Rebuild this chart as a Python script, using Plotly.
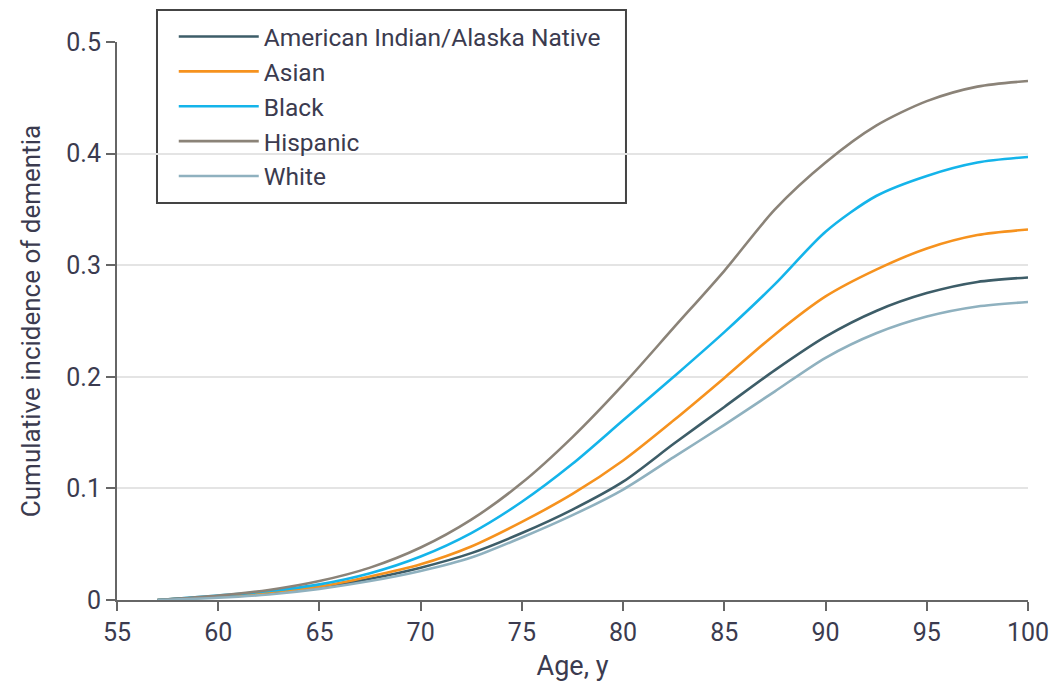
import plotly.graph_objects as go

ages = [57, 60, 62.5, 65, 67.5, 70, 72.5, 75, 77.5, 80, 82.5, 85, 87.5, 90, 92.5, 95, 97.5, 100]

aian = [0.0, 0.003, 0.006, 0.011, 0.019, 0.029, 0.042, 0.060, 0.081, 0.106, 0.140, 0.173, 0.206, 0.236, 0.259, 0.275, 0.285, 0.289]
asian = [0.0, 0.003, 0.007, 0.012, 0.021, 0.032, 0.048, 0.070, 0.095, 0.125, 0.161, 0.199, 0.238, 0.272, 0.296, 0.315, 0.327, 0.332]
black = [0.0, 0.004, 0.008, 0.014, 0.024, 0.039, 0.060, 0.088, 0.122, 0.161, 0.200, 0.240, 0.283, 0.330, 0.362, 0.380, 0.392, 0.397]
hispanic = [0.0, 0.004, 0.009, 0.017, 0.029, 0.047, 0.072, 0.105, 0.146, 0.193, 0.244, 0.295, 0.350, 0.392, 0.425, 0.447, 0.460, 0.465]
white = [0.0, 0.002, 0.005, 0.010, 0.017, 0.026, 0.038, 0.056, 0.076, 0.099, 0.128, 0.157, 0.187, 0.217, 0.239, 0.254, 0.263, 0.267]

series = [
    ("American Indian/Alaska Native", aian, "#3d5d68"),
    ("Asian", asian, "#f6921e"),
    ("Black", black, "#14b4ea"),
    ("Hispanic", hispanic, "#8b8378"),
    ("White", white, "#8fb1bf"),
]

x_ticks = [55, 60, 65, 70, 75, 80, 85, 90, 95, 100]
y_ticks = [0, 0.1, 0.2, 0.3, 0.4, 0.5]
y_tick_labels = ["0", "0.1", "0.2", "0.3", "0.4", "0.5"]

FONT = "Roboto, Liberation Sans, sans-serif"
TXT = "#3b3b4f"

fig = go.Figure()
for name, vals, color in series:
    fig.add_trace(go.Scatter(x=ages, y=vals, name=name, mode="lines",
                             line=dict(color=color, width=2.6, shape="spline", smoothing=0.8)))

# legend frame
fig.add_shape(type="rect", xref="paper", yref="paper",
              x0=0.0439, x1=0.5587, y0=0.7115, y1=1.0573,
              line=dict(color="#444444", width=2), fillcolor="white", layer="below")

fig.update_layout(
    width=1053, height=689,
    margin=dict(l=117, r=25, t=42, b=89, autoexpand=False),
    paper_bgcolor="white", plot_bgcolor="white",
    font=dict(family=FONT, size=25, color=TXT),
    legend=dict(x=0.0623, y=1.050, xanchor="left", yanchor="top",
                borderwidth=0, bgcolor="rgba(0,0,0,0)",
                font=dict(family=FONT, size=24.5, color=TXT),
                tracegroupgap=0, itemwidth=80),
    xaxis=dict(range=[55, 100], tickvals=x_ticks, showgrid=False,
               showline=True, linecolor="#666666", linewidth=2,
               ticks="outside", ticklen=9, tickwidth=2, tickcolor="#666666",
               tickfont=dict(size=25, color=TXT),
               title=dict(text="Age, y", font=dict(size=27, color=TXT), standoff=10),
               zeroline=False),
    yaxis=dict(range=[0, 0.5], tickvals=y_ticks, ticktext=y_tick_labels,
               showgrid=True, gridcolor="#e4e4e4", gridwidth=1.5,
               showline=True, linecolor="#666666", linewidth=2,
               ticks="outside", ticklen=9, tickwidth=2, tickcolor="#666666",
               tickfont=dict(size=25, color=TXT),
               title=dict(text="Cumulative incidence of dementia", font=dict(size=26, color=TXT), standoff=18),
               zeroline=False),
)

fig.write_html("out.html", config={"displayModeBar": False},
               post_script="document.body.style.margin='0';document.body.style.overflow='hidden';")
